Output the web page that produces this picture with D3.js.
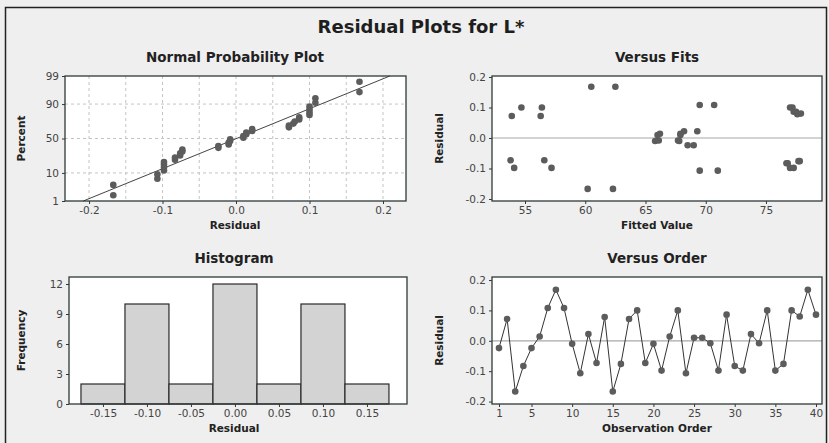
<!DOCTYPE html>
<html>
<head>
<meta charset="utf-8">
<script src="https://cdn.jsdelivr.net/npm/d3@7/dist/d3.min.js"></script>
<style>
  html, body { margin: 0; padding: 0; background: #efefef; }
  svg { display: block; font-family: "DejaVu Sans", Verdana, sans-serif; }
</style>
</head>
<body>
<svg id="chart" width="829" height="443"></svg>
<script>
// residuals in observation order (1..40)
const residuals = [
  -0.024, 0.072, -0.167, -0.083, -0.024, 0.014, 0.108, 0.168, 0.108, -0.010,
  -0.107, 0.022, -0.073, 0.078, -0.167, -0.076, 0.072, 0.100, -0.073, -0.010,
  -0.098, 0.014, 0.100, -0.107, 0.010, 0.010, -0.008, -0.098, 0.086, -0.083,
  -0.098, 0.022, -0.008, 0.100, -0.098, -0.076, 0.100, 0.080, 0.168, 0.086
];
// fitted values, same order
const fits = [
  68.5, 53.9, 60.2, 76.8, 69.0, 66.2, 69.5, 60.5, 70.7, 65.8,
  69.5, 68.2, 53.8, 77.6, 62.3, 77.7, 56.3, 77.0, 56.6, 67.8,
  54.1, 67.9, 77.2, 71.0, 66.0, 67.9, 66.1, 57.2, 77.3, 76.7,
  77.3, 69.3, 67.7, 54.7, 77.0, 77.8, 56.4, 77.9, 62.5, 77.5
];
// histogram
const binCenters = [-0.15, -0.10, -0.05, 0.00, 0.05, 0.10, 0.15];
const binCounts  = [2, 10, 2, 12, 2, 10, 2];
const binWidth = 0.05;

// ticks
const nppXTicks = [-0.2, -0.1, 0.0, 0.1, 0.2];
const nppXGrid = [-0.2, -0.15, -0.1, -0.05, 0, 0.05, 0.1, 0.15, 0.2];
const nppYTicks = [1, 10, 50, 90, 99];
const nppYGrid = [10, 50, 90];
const resTicks = [-0.2, -0.1, 0.0, 0.1, 0.2];
const fitsTicks = [55, 60, 65, 70, 75];
const histXTicks = [-0.15, -0.10, -0.05, 0.00, 0.05, 0.10, 0.15];
const histYTicks = [0, 3, 6, 9, 12];
const orderTicks = [1, 5, 10, 15, 20, 25, 30, 35, 40];

// inverse normal cdf (Acklam), used for the probability axis
function probit(p) {
  const a = [-39.69683028665376, 220.9460984245205, -275.9285104469687, 138.3577518672690, -30.66479806614716, 2.506628277459239];
  const b = [-54.47609879822406, 161.5858368580409, -155.6989798598866, 66.80131188771972, -13.28068155288572];
  const c = [-0.007784894002430293, -0.3223964580411365, -2.400758277161838, -2.549732539343734, 4.374664141464968, 2.938163982698783];
  const d = [0.007784695709041462, 0.3224671290700398, 2.445134137142996, 3.754408661907416];
  const pl = 0.02425, ph = 1 - pl;
  let q, r;
  if (p < pl) {
    q = Math.sqrt(-2 * Math.log(p));
    return (((((c[0]*q+c[1])*q+c[2])*q+c[3])*q+c[4])*q+c[5]) / ((((d[0]*q+d[1])*q+d[2])*q+d[3])*q+1);
  }
  if (p <= ph) {
    q = p - 0.5; r = q * q;
    return (((((a[0]*r+a[1])*r+a[2])*r+a[3])*r+a[4])*r+a[5])*q / (((((b[0]*r+b[1])*r+b[2])*r+b[3])*r+b[4])*r+1);
  }
  q = Math.sqrt(-2 * Math.log(1 - p));
  return -(((((c[0]*q+c[1])*q+c[2])*q+c[3])*q+c[4])*q+c[5]) / ((((d[0]*q+d[1])*q+d[2])*q+d[3])*q+1);
}

const svg = d3.select('#chart');
const frameColor = '#2d3a38';
const tickColor = '#444';
const pointColor = '#5c5c5c';

// minitab style: plain hyphen for minus
const f1 = d => d.toFixed(1);
const f2 = d => d.toFixed(2);
const fInt = d => String(d);

// outer border
svg.append('rect')
  .attr('x', 5.5).attr('y', 7.5).attr('width', 821).attr('height', 440)
  .attr('fill', 'none').attr('stroke', '#222').attr('stroke-width', 1.5);

svg.append('text')
  .attr('x', 421).attr('y', 33)
  .attr('text-anchor', 'middle')
  .attr('font-size', 18).attr('font-weight', 'bold').attr('fill', '#1e1e1e')
  .text('Residual Plots for L*');

// panel helper: white plot area, title, axis labels
function panel(box, title, xLabel, yLabel) {
  const g = svg.append('g');
  g.append('rect')
    .attr('x', box.x0).attr('y', box.y0)
    .attr('width', box.x1 - box.x0).attr('height', box.y1 - box.y0)
    .attr('fill', '#fff');
  const cy = (box.y0 + box.y1) / 2;
  g.append('text')
    .attr('x', box.tx).attr('y', box.y0 - 14)
    .attr('text-anchor', 'middle')
    .attr('font-size', 13.5).attr('font-weight', 'bold').attr('fill', '#222')
    .text(title);
  g.append('text')
    .attr('x', box.tx).attr('y', box.y1 + 28)
    .attr('text-anchor', 'middle')
    .attr('font-size', 10.5).attr('font-weight', 'bold').attr('fill', '#222')
    .text(xLabel);
  g.append('text')
    .attr('transform', `translate(${box.yl},${cy}) rotate(-90)`)
    .attr('text-anchor', 'middle')
    .attr('font-size', 10.5).attr('font-weight', 'bold').attr('fill', '#222')
    .text(yLabel);
  return g;
}

function styleAxis(sel) {
  sel.select('.domain').remove();
  sel.selectAll('.tick line').attr('stroke', frameColor);
  sel.selectAll('.tick text')
    .attr('fill', tickColor).attr('font-size', 10.5)
    .attr('font-family', '"DejaVu Sans", Verdana, sans-serif');
}

function frame(g, box) {
  g.append('rect')
    .attr('x', box.x0).attr('y', box.y0)
    .attr('width', box.x1 - box.x0).attr('height', box.y1 - box.y0)
    .attr('fill', 'none').attr('stroke', frameColor).attr('stroke-width', 1.3);
}

function axes(g, box, xAxis, yAxis) {
  g.append('g')
    .attr('transform', `translate(0,${box.y1})`)
    .call(xAxis.tickSize(3).tickPadding(3))
    .call(styleAxis);
  g.append('g')
    .attr('transform', `translate(${box.x0},0)`)
    .call(yAxis.tickSize(3).tickPadding(3))
    .call(styleAxis);
}

// ---- Normal Probability Plot ----
{
  const box = { x0: 65, x1: 406, y0: 76, y1: 201, tx: 235, yl: 25 };
  const g = panel(box, 'Normal Probability Plot', 'Residual', 'Percent');
  const x = d3.scaleLinear().domain([-0.2327, 0.2313]).range([box.x0, box.x1]);
  // y scale on normal quantiles, ticks labelled in percent
  const y = d3.scaleLinear().domain([probit(0.01), probit(0.99)]).range([box.y1, box.y0]);
  const yp = p => y(probit(p / 100));

  g.append('g').selectAll('line').data(nppXGrid).join('line')
    .attr('x1', d => x(d)).attr('x2', d => x(d))
    .attr('y1', box.y0).attr('y2', box.y1)
    .attr('stroke', '#c4c4c4').attr('stroke-dasharray', '3,3');
  g.append('g').selectAll('line').data(nppYGrid).join('line')
    .attr('x1', box.x0).attr('x2', box.x1)
    .attr('y1', d => yp(d)).attr('y2', d => yp(d))
    .attr('stroke', '#c4c4c4').attr('stroke-dasharray', '3,3');

  const n = residuals.length;
  const sorted = residuals.slice().sort((a, b) => a - b);
  const pts = sorted.map((r, i) => ({ r, p: (i + 1 - 0.3) / (n + 0.4) * 100 }));
  const mu = d3.mean(residuals), sd = d3.deviation(residuals);

  g.append('line')
    .attr('x1', x(mu + sd * probit(0.01))).attr('y1', yp(1))
    .attr('x2', x(mu + sd * probit(0.99))).attr('y2', yp(99))
    .attr('stroke', '#444').attr('stroke-width', 1);

  g.append('g').selectAll('circle').data(pts).join('circle')
    .attr('cx', d => x(d.r)).attr('cy', d => yp(d.p)).attr('r', 3.3)
    .attr('fill', pointColor);

  const zTicks = nppYTicks.map(p => probit(p / 100));
  axes(g, box,
    d3.axisBottom(x).tickValues(nppXTicks).tickFormat(f1),
    d3.axisLeft(y).tickValues(zTicks).tickFormat((d, i) => nppYTicks[i]));
  frame(g, box);
}

// ---- Versus Fits ----
{
  const box = { x0: 492, x1: 822, y0: 76, y1: 201, tx: 657, yl: 443 };
  const g = panel(box, 'Versus Fits', 'Fitted Value', 'Residual');
  const x = d3.scaleLinear().domain([52.26, 79.65]).range([box.x0, box.x1]);
  const y = d3.scaleLinear().domain([-0.2066, 0.2033]).range([box.y1, box.y0]);
  g.append('line')
    .attr('x1', box.x0).attr('x2', box.x1).attr('y1', y(0)).attr('y2', y(0))
    .attr('stroke', '#a8a8a8').attr('stroke-width', 1.2);
  g.append('g').selectAll('circle').data(residuals).join('circle')
    .attr('cx', (d, i) => x(fits[i])).attr('cy', d => y(d)).attr('r', 3.3)
    .attr('fill', pointColor);
  axes(g, box,
    d3.axisBottom(x).tickValues(fitsTicks).tickFormat(fInt),
    d3.axisLeft(y).tickValues(resTicks).tickFormat(f1));
  frame(g, box);
}

// ---- Histogram ----
{
  const box = { x0: 69, x1: 407, y0: 277, y1: 404, tx: 234, yl: 25 };
  const g = panel(box, 'Histogram', 'Residual', 'Frequency');
  const x = d3.scaleLinear().domain([-0.1886, 0.1955]).range([box.x0, box.x1]);
  const y = d3.scaleLinear().domain([0, 12.7]).range([box.y1, box.y0]);
  g.append('g').selectAll('rect').data(binCenters).join('rect')
    .attr('x', d => x(d - binWidth / 2))
    .attr('width', d => x(d + binWidth / 2) - x(d - binWidth / 2))
    .attr('y', (d, i) => y(binCounts[i]))
    .attr('height', (d, i) => y(0) - y(binCounts[i]))
    .attr('fill', '#d3d3d3').attr('stroke', '#2a2a2a').attr('stroke-width', 1.2);
  axes(g, box,
    d3.axisBottom(x).tickValues(histXTicks).tickFormat(f2),
    d3.axisLeft(y).tickValues(histYTicks).tickFormat(fInt));
  frame(g, box);
}

// ---- Versus Order ----
{
  const box = { x0: 492, x1: 822, y0: 277, y1: 404, tx: 657, yl: 443 };
  const g = panel(box, 'Versus Order', 'Observation Order', 'Residual');
  const x = d3.scaleLinear().domain([0.14, 40.74]).range([box.x0, box.x1]);
  const y = d3.scaleLinear().domain([-0.208, 0.21]).range([box.y1, box.y0]);
  g.append('line')
    .attr('x1', box.x0).attr('x2', box.x1).attr('y1', y(0)).attr('y2', y(0))
    .attr('stroke', '#a8a8a8').attr('stroke-width', 1.2);
  const line = d3.line().x((d, i) => x(i + 1)).y(d => y(d));
  g.append('path').datum(residuals)
    .attr('d', line).attr('fill', 'none')
    .attr('stroke', '#333').attr('stroke-width', 1);
  g.append('g').selectAll('circle').data(residuals).join('circle')
    .attr('cx', (d, i) => x(i + 1)).attr('cy', d => y(d)).attr('r', 3.3)
    .attr('fill', pointColor);
  axes(g, box,
    d3.axisBottom(x).tickValues(orderTicks).tickFormat(fInt),
    d3.axisLeft(y).tickValues(resTicks).tickFormat(f1));
  frame(g, box);
}
</script>
</body>
</html>
